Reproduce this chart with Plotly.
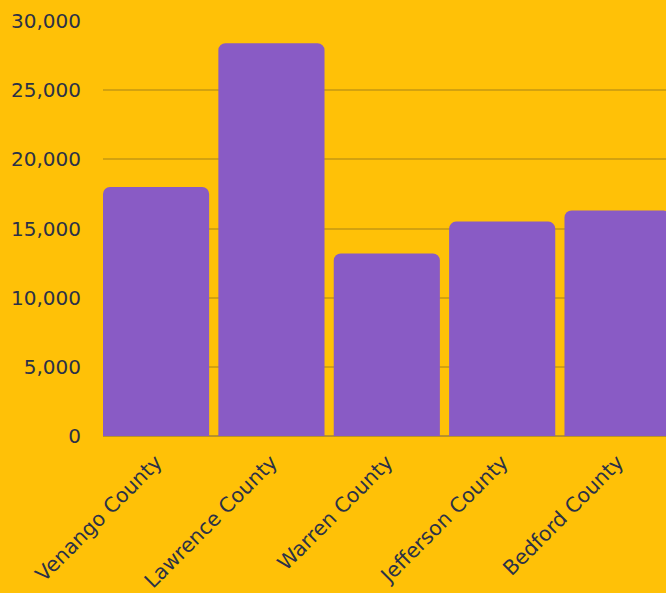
import plotly.graph_objects as go

# County totals
counties = ["Venango County", "Lawrence County", "Warren County", "Jefferson County", "Bedford County"]
totals = [18000, 28400, 13200, 15500, 16300]
y_ticks = [0, 5000, 10000, 15000, 20000, 25000, 30000]
y_tick_text = ["0", "5,000", "10,000", "15,000", "20,000", "25,000", "30,000"]

BG = "#FFC107"
BAR = "#895BC5"
GRID = "#D3A20F"
BASE = "#B8922A"
TEXT = "#2B3147"

fig = go.Figure(
    go.Bar(
        x=list(range(len(counties))),
        y=totals,
        marker=dict(color=BAR, line=dict(width=0), cornerradius=7),
        hoverinfo="skip",
    )
)

fig.update_layout(
    width=666,
    height=593,
    margin=dict(l=103, r=0, t=21, b=155),
    paper_bgcolor=BG,
    plot_bgcolor=BG,
    bargap=0.08,
    showlegend=False,
    font=dict(family="DejaVu Sans", size=20, color=TEXT),
)

fig.update_xaxes(
    range=[-0.46, 4.42],
    tickmode="array",
    tickvals=list(range(len(counties))),
    ticktext=counties,
    tickangle=-45,
    showgrid=False,
    zeroline=False,
    showline=False,
    ticks="outside",
    ticklen=5,
    tickcolor="rgba(0,0,0,0)",
    tickfont=dict(size=20.5, color=TEXT),
)

fig.update_yaxes(
    range=[0, 30000],
    tickmode="array",
    tickvals=y_ticks,
    ticktext=y_tick_text,
    showgrid=True,
    gridcolor=GRID,
    gridwidth=2,
    zeroline=True,
    zerolinecolor=BASE,
    zerolinewidth=2,
    ticks="outside",
    ticklen=17,
    tickcolor="rgba(0,0,0,0)",
    tickfont=dict(size=20, color=TEXT),
)

fig.write_html("out.html")
